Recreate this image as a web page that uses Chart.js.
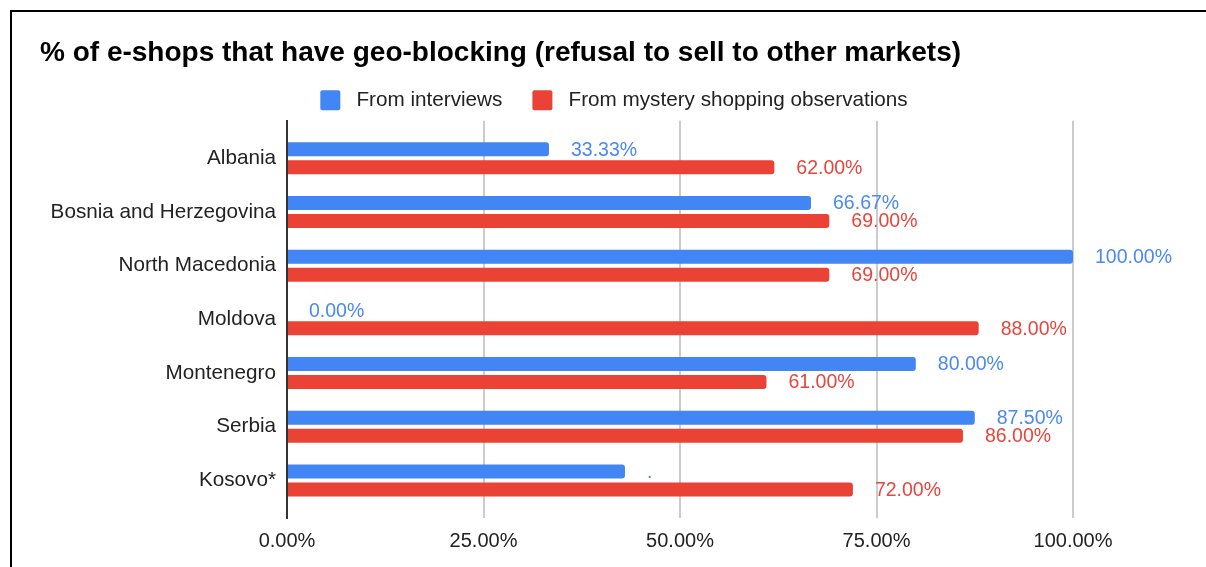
<!DOCTYPE html>
<html>
<head>
<meta charset="utf-8">
<title>Geo-blocking in e-shops</title>
<script src="https://cdn.jsdelivr.net/npm/chart.js@4.4.1/dist/chart.umd.min.js"></script>
<style>
  html, body { margin: 0; padding: 0; background: #fff; overflow: hidden; }
  .frame {
    position: absolute; left: 10px; top: 10px; width: 1300px; height: 700px;
    border-top: 2px solid #000; border-left: 2px solid #000;
  }
  #geoChart { position: absolute; left: 0; top: 0; }
</style>
</head>
<body>
<div class="frame"></div>
<canvas id="geoChart" width="1206" height="567"></canvas>
<script>
const categories = ['Albania', 'Bosnia and Herzegovina', 'North Macedonia', 'Moldova', 'Montenegro', 'Serbia', 'Kosovo*'];
const fromInterviews = [33.33, 66.67, 100, 0, 80, 87.5, 43];
const fromMystery = [62, 69, 69, 88, 61, 86, 72];
const xTicks = [0, 25, 50, 75, 100];

const pct = v => v.toFixed(2) + '%';
// Kosovo's interview bar carries only a dot instead of a value
const interviewLabels = fromInterviews.map((v, i) => categories[i] === 'Kosovo*' ? '.' : pct(v));
const mysteryLabels = fromMystery.map(pct);

const FONT = "'Liberation Sans', Arial, sans-serif";
Chart.defaults.font.family = FONT;

const valueLabels = {
    id: 'valueLabels',
    afterDatasetsDraw(chart) {
        const ctx = chart.ctx;
        ctx.save();
        ctx.font = '19.5px ' + FONT;
        ctx.textAlign = 'left';
        ctx.textBaseline = 'middle';
        chart.data.datasets.forEach((ds, di) => {
            ctx.fillStyle = ds.valueColor;
            chart.getDatasetMeta(di).data.forEach((bar, i) => {
                ctx.fillText(ds.valueLabels[i], bar.x + 22, bar.y + 1);
            });
        });
        ctx.restore();
    }
};

const ctx = document.getElementById('geoChart').getContext('2d');
new Chart(ctx, {
    type: 'bar',
    data: {
        datasets: [
            {
                label: 'From interviews',
                data: categories.map((c, i) => ({ y: i, x: fromInterviews[i] })),
                backgroundColor: '#4285f4',
                valueColor: '#4a89f3',
                valueLabels: interviewLabels,
                xAxisID: 'x',
                yAxisID: 'y'
            },
            {
                label: 'From mystery shopping observations',
                data: categories.map((c, i) => ({ y: i, x: fromMystery[i] })),
                backgroundColor: '#ea4335',
                valueColor: '#e8453c',
                valueLabels: mysteryLabels,
                xAxisID: 'x',
                yAxisID: 'y'
            }
        ]
    },
    options: {
        responsive: false,
        animation: false,
        indexAxis: 'y',
        layout: { padding: { top: 12, left: 40, right: 18, bottom: 3 } },
        datasets: {
            bar: { categoryPercentage: 0.67, barPercentage: 0.78, borderRadius: 3 }
        },
        plugins: {
            tooltip: { enabled: false },
            title: {
                display: true,
                text: '% of e-shops that have geo-blocking (refusal to sell to other markets)',
                align: 'start',
                color: '#000',
                font: { size: 28, weight: 'bold', lineHeight: 1 },
                padding: { top: 27, bottom: -7 }
            },
            legend: {
                labels: {
                    color: '#222',
                    font: { size: 20.7 },
                    boxWidth: 20,
                    boxHeight: 20,
                    padding: 30,
                    useBorderRadius: true,
                    borderRadius: 2,
                    generateLabels: chart => Chart.defaults.plugins.legend.labels.generateLabels(chart)
                        .map(item => Object.assign(item, { text: ' ' + item.text }))
                }
            }
        },
        scales: {
            x: {
                type: 'linear',
                position: 'bottom',
                min: 0,
                max: 100,
                afterBuildTicks: scale => { scale.ticks = xTicks.map(v => ({ value: v })); },
                ticks: { callback: v => pct(v), color: '#222', font: { size: 20 }, padding: 11 },
                grid: {
                    color: c => c.tick && c.tick.value === 0 ? 'rgba(0,0,0,0)' : '#cccccc',
                    lineWidth: 2,
                    drawTicks: false
                },
                border: { display: false }
            },
            y: {
                type: 'linear',
                position: 'left',
                reverse: true,
                offset: false,
                bounds: 'data',
                min: -0.7,
                max: 6.7,
                afterBuildTicks: scale => { scale.ticks = categories.map((c, i) => ({ value: i })); },
                afterFit: scale => { scale.width = 247; },
                ticks: { callback: v => categories[v], color: '#222', font: { size: 20.7 }, padding: 11, autoSkip: false },
                grid: { display: false, drawTicks: false, offset: false },
                border: { display: true, color: '#333', width: 2 }
            },
            // empty right-hand gutter where the longest value labels sit
            gutter: {
                type: 'linear',
                position: 'right',
                ticks: { display: false },
                grid: { display: false, drawTicks: false },
                border: { display: false },
                afterFit: scale => { scale.width = 115; }
            }
        }
    },
    plugins: [valueLabels]
});
</script>
</body>
</html>
